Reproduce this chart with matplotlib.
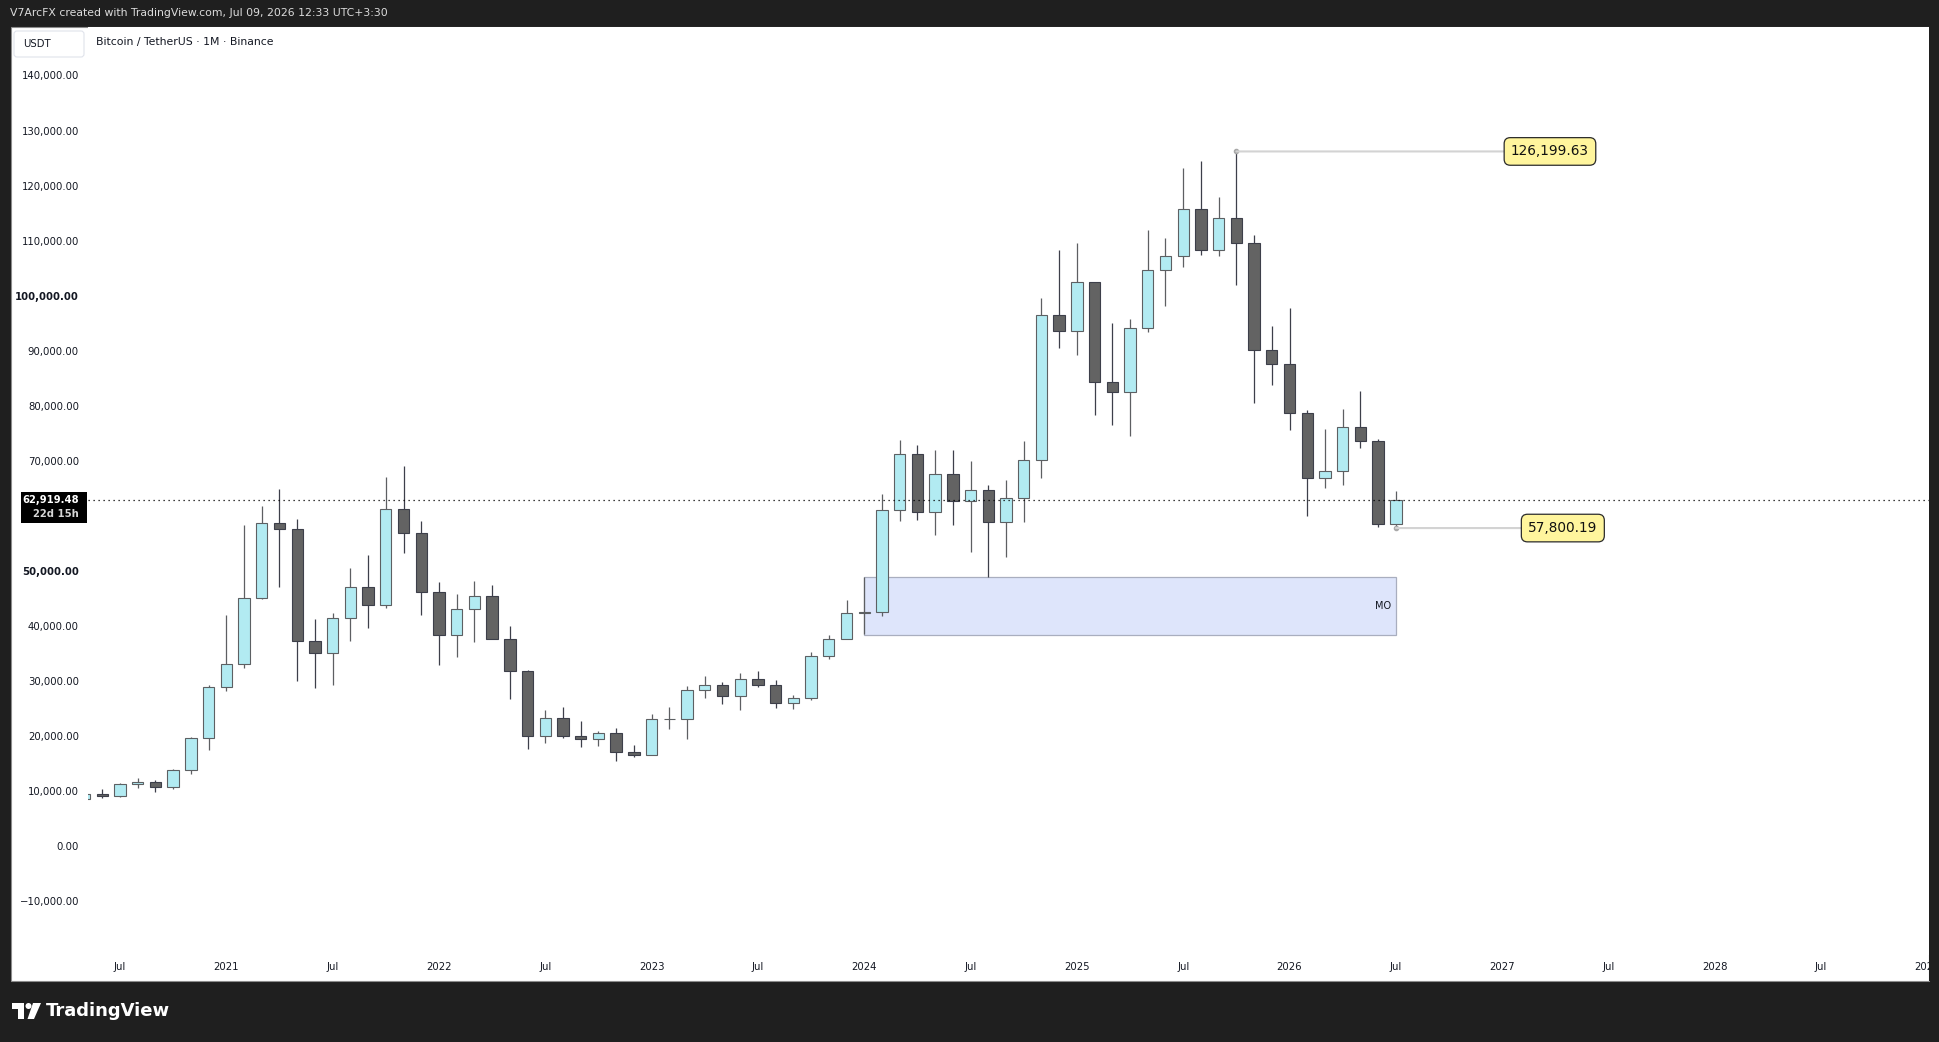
import matplotlib

matplotlib.use("Agg")
import matplotlib.pyplot as plt
import matplotlib.transforms as mtransforms
import numpy as np
from matplotlib.patches import Circle, FancyBboxPatch, Polygon, Rectangle

W, H = 1940, 1042

# BTC/USDT monthly candles (Binance), first bar May 2020
FIRST_MONTH = "2020-05"
opens = [8620, 9448, 9138, 11335, 11649, 10777, 13791, 19695,
         28923, 33093, 45136, 58741, 57694, 37254, 35045, 41462, 47101, 43824, 61300, 56951,
         46217, 38467, 43160, 45510, 37631, 31802, 19943, 23297, 20050, 19423, 20491, 17164,
         16542, 23125, 23142, 28465, 29233, 27211, 30472, 29232, 25941, 26963, 34640, 37724,
         42284, 42582, 61131, 71280, 60672, 67541, 62773, 64629, 58974, 63328, 70216, 96408,
         93576, 102430, 84350, 82550, 94172, 104592, 107136, 115764, 108246, 114049, 109600, 90070,
         87527, 78630, 66826, 68098, 76088, 73545, 58473]
highs = [10067, 10380, 11444, 12468, 12050, 14100, 19863, 29300,
         41950, 58352, 61844, 64854, 59500, 41330, 42448, 50500, 52920, 67000, 69000, 59054,
         47990, 45821, 48190, 47445, 40023, 31982, 24668, 25212, 22800, 20988, 21480, 18388,
         23960, 25250, 29185, 31000, 29821, 31432, 31804, 30245, 27484, 35281, 38450, 44700,
         48970, 63914, 73778, 72798, 71980, 71998, 70017, 65661, 66499, 73620, 99588, 108353,
         109588, 102500, 95000, 95759, 111980, 110531, 123218, 124474, 117900, 126199.63, 111013, 94489,
         97757, 79235, 75785, 79417, 82686, 73908, 64526]
lows = [8117, 8833, 8893, 10525, 9825, 10375, 13195, 17572,
        28130, 32296, 45000, 47044, 30000, 28805, 29278, 37332, 39600, 43283, 53256, 42000,
        32917, 34322, 37155, 37578, 26700, 17622, 18782, 19600, 18125, 18132, 15476, 16256,
        16499, 21351, 19549, 26942, 25811, 24800, 28861, 25166, 24901, 26538, 34097, 37630,
        38555, 41884, 59005, 59191, 56553, 58402, 53486, 49000, 52550, 58947, 66836, 90500,
        89256, 78258, 76607, 74509, 93322, 98200, 105250, 107350, 107255, 102000, 80600, 83835,
        75664, 59925, 65012, 65677, 72395, 58049, 57800.19]
closes = [9448, 9138, 11335, 11649, 10777, 13791, 19695, 28923,
          33093, 45136, 58741, 57694, 37254, 35045, 41462, 47101, 43824, 61299, 56951, 46217,
          38467, 43160, 45510, 37631, 31802, 19943, 23297, 20050, 19423, 20491, 17164, 16542,
          23125, 23142, 28465, 29233, 27211, 30472, 29232, 25941, 26963, 34640, 37724, 42284,
          42582, 61131, 71280, 60672, 67541, 62773, 64629, 58974, 63327, 70216, 96408, 93576,
          102430, 84350, 82550, 94172, 104592, 107136, 115764, 108246, 114049, 109600, 90070, 87527,
          78630, 66826, 68098, 76088, 73545, 58473, 62919.48]

LAST_PRICE = 62919.48
LAST_TIMER = "22d 15h"
ATH_MONTH, ATH = "2025-10", 126199.63
LOW_MONTH, LOW_NOW = "2026-07", 57800.19
ZONE_FROM, ZONE_TO = "2024-01", "2026-07"
ZONE_LOW, ZONE_HIGH = 38313, 48849
ZONE_LABEL = "MO"

y_ticks = [-10000, 0, 10000, 20000, 30000, 40000, 50000,
           70000, 80000, 90000, 100000, 110000, 120000, 130000, 140000]
bold_ticks = [50000, 100000]

HEADER = "V7ArcFX created with TradingView.com, Jul 09, 2026 12:33 UTC+3:30"
SYMBOL = "Bitcoin / TetherUS \u00b7 1M \u00b7 Binance"
CURRENCY = "USDT"

# layout (pixels of the 1940x1042 snapshot)
X_JUL20, PX_MONTH = 120.0, 17.72
Y_ZERO, PX_10K = 846.3, 55.06
PL, PR, PT, PB = 88, 1929, 27, 955

DARK = "#1f1f1f"
TXT = "#131722"
UP_FILL, UP_EDGE, UP_WICK = "#b2ebf2", "#5d6063", "#5d5f62"
DN_FILL, DN_EDGE, DN_WICK = "#636363", "#3d3f4a", "#3d3f4a"

plt.rcParams["font.family"] = ["DejaVu Sans"]


def midx(s):
    y, m = map(int, s.split("-"))
    return (y - 2020) * 12 + m - 1


def fmt(v):
    s = f"{abs(v):,.2f}"
    return "\u2212" + s if v < 0 else s


o, h, l, c = (np.array(a, dtype=float) for a in (opens, highs, lows, closes))
months = np.arange(len(o)) + midx(FIRST_MONTH)

fig = plt.figure(figsize=(W / 100, H / 100), dpi=100, facecolor=DARK)
PX = mtransforms.Affine2D().scale(1 / W, -1 / H).translate(0, 1) + fig.transFigure

# white pane behind the chart
fig.add_artist(Rectangle((11, PT), PR - 11, 981 - PT, transform=PX,
                         fc="white", ec="#8c8c8c", lw=0.8, zorder=-1))

ax = fig.add_axes([PL / W, 1 - PB / H, (PR - PL) / W, (PB - PT) / H])
ax.set_facecolor("white")
ax.set_xlim(6 + (PL - X_JUL20) / PX_MONTH, 6 + (PR - X_JUL20) / PX_MONTH)
ax.set_ylim((Y_ZERO - PB) / PX_10K * 1e4, (Y_ZERO - PT) / PX_10K * 1e4)
for sp in ax.spines.values():
    sp.set_visible(False)

# candles
up = c >= o
for mask, fill, edge, wick in ((up, UP_FILL, UP_EDGE, UP_WICK),
                               (~up, DN_FILL, DN_EDGE, DN_WICK)):
    ax.vlines(months[mask], l[mask], h[mask], color=wick, lw=0.9, zorder=2)
    ax.bar(months[mask], np.abs(c - o)[mask], bottom=np.minimum(o, c)[mask],
           width=0.64, color=fill, edgecolor=edge, linewidth=0.8, zorder=3)

# zone box
z0, z1 = midx(ZONE_FROM), midx(ZONE_TO)
ax.add_patch(Rectangle((z0, ZONE_LOW), z1 - z0, ZONE_HIGH - ZONE_LOW,
                       fc="#dee5fb", ec="#a9aebf", lw=0.9, zorder=1))
ax.annotate(ZONE_LABEL, xy=(z1, (ZONE_LOW + ZONE_HIGH) / 2), xytext=(-5, 0),
            textcoords="offset pixels", ha="right", va="center",
            fontsize=7, color=TXT, zorder=4)

# last price dotted line
ax.axhline(LAST_PRICE, color="#000000", lw=0.9, ls=(0, (1, 3)), zorder=4)

# high / low labels
for month, price, dx in ((ATH_MONTH, ATH, 313.6), (LOW_MONTH, LOW_NOW, 167)):
    xm = midx(month)
    ax.plot([xm], [price], "o", ms=3, color="#a9a9a9", zorder=5)
    ax.annotate(f"{price:,.2f}", xy=(xm, price), xytext=(dx, 0),
                textcoords="offset pixels", ha="center", va="center",
                fontsize=9.8, color="#111111", zorder=6,
                bbox=dict(boxstyle="round,pad=0.5,rounding_size=0.45",
                          fc="#fff59d", ec="#2b2b2b", lw=0.9),
                arrowprops=dict(arrowstyle="-", color="#d3d3d3", lw=1.5,
                                shrinkA=0, shrinkB=0))

# axes ticks
xt = np.arange(6, 109, 6)
ax.set_xticks(xt)
ax.set_xticklabels(["Jul" if t % 12 == 6 else str(2020 + t // 12) for t in xt])
ax.set_yticks(y_ticks)
ax.set_yticklabels([fmt(v) for v in y_ticks])
ax.tick_params(axis="both", length=0, labelsize=7.3, labelcolor=TXT)
ax.tick_params(axis="y", pad=6.5)
ax.tick_params(axis="x", pad=5)
for lab, v in zip(ax.get_yticklabels(), y_ticks):
    if v in bold_ticks:
        lab.set_fontweight("bold")

# price label on the scale
fig.add_artist(Rectangle((21, 492), 66, 31, transform=PX, fc="black", ec="none", zorder=6))
fig.text(79 / W, 1 - 500 / H, fmt(LAST_PRICE), color="white", fontsize=7.2,
         fontweight="bold", ha="right", va="center", zorder=7)
fig.text(79 / W, 1 - 514 / H, LAST_TIMER, color="#d6d6d6", fontsize=7.2,
         fontweight="bold", ha="right", va="center", zorder=7)

# clip the right end of the time scale like the snapshot frame
fig.add_artist(Rectangle((PR, PT), W - PR, 981 - PT, transform=PX,
                         fc=DARK, ec="none", zorder=5))

# header and legend
fig.text(10 / W, 1 - 13.5 / H, HEADER, color="#dcdcdc", fontsize=7.8,
         ha="left", va="center")
fig.add_artist(FancyBboxPatch((14, 31), 70, 26, transform=PX,
                              boxstyle="round,pad=0,rounding_size=3",
                              fc="white", ec="#e0e3eb", lw=0.8, zorder=6))
fig.text(23 / W, 1 - 44 / H, CURRENCY, color=TXT, fontsize=7.3,
         ha="left", va="center", zorder=7)
fig.text(96 / W, 1 - 42 / H, SYMBOL, color=TXT, fontsize=7.8,
         ha="left", va="center", zorder=7)

# footer logo
fig.add_artist(Polygon([(12, 1003), (24, 1003), (24, 1019), (18, 1019),
                        (18, 1009), (12, 1009)], closed=True, transform=PX,
                       fc="white", ec="none", zorder=6))
fig.add_artist(Circle((28.5, 1006), 3, transform=PX, fc="white", ec="none", zorder=6))
fig.add_artist(Polygon([(33, 1003), (41, 1003), (34, 1019), (27.5, 1019)],
                       closed=True, transform=PX, fc="white", ec="none", zorder=6))
fig.text(46 / W, 1 - 1011 / H, "TradingView", color="white", fontsize=13,
         fontweight="bold", ha="left", va="center")

fig.savefig("out.png", dpi=100, facecolor=DARK)
